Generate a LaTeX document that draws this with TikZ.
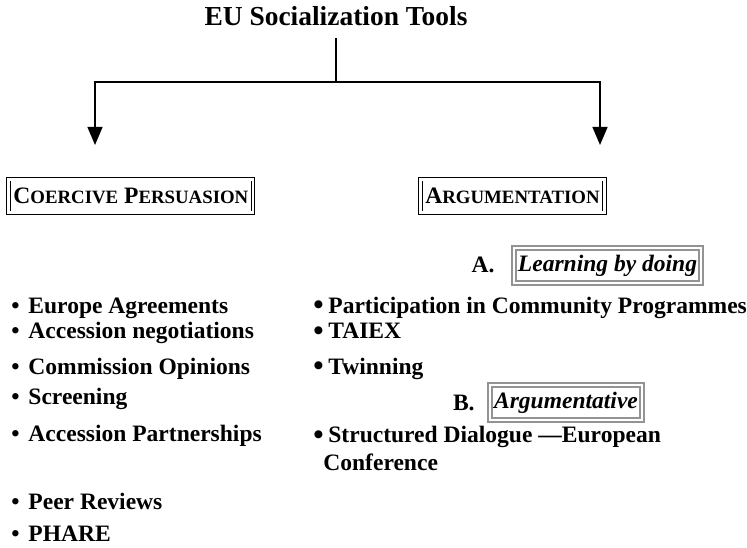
\documentclass[tikz,border=0pt]{standalone}
\usepackage{fontspec}
\setmainfont{Liberation Serif}
\usetikzlibrary{arrows.meta}

\newcommand{\fakesc}[2]{#1{\fontsize{9.6}{9.6}\selectfont #2}}
\newcommand{\smalldot}{\makebox[8.7pt][l]{•}}
\newcommand{\bigdot}{\makebox[7.65pt][l]{\smash{\raisebox{-0.9pt}{\fontsize{15}{15}\selectfont •}}}}

\begin{document}
\begin{tikzpicture}[
	x=0.51pt, y=-0.51pt,
	headline/.style={font=\fontsize{14}{16}\selectfont\bfseries, inner sep=0pt},
	category/.style={draw, double, line width=0.5pt, double distance=1.2pt, font=\fontsize{12}{14}\selectfont\bfseries, minimum height=17pt, inner xsep=2.5pt},
	mode/.style={draw=gray!85, double, line width=1.1pt, double distance=0.9pt, font=\fontsize{12}{14}\selectfont\bfseries\itshape, minimum height=16.5pt, inner xsep=2pt},
	marker/.style={font=\fontsize{12}{14}\selectfont\bfseries, inner sep=0pt, anchor=base east},
	item/.style={font=\fontsize{12}{13.8}\selectfont\bfseries, inner sep=0pt, anchor=base west, align=left},
	branch/.style={line width=0.8pt},
	drop/.style={line width=0.9pt, -{Triangle[width=7.6pt, length=9.2pt]}}
	]
	
	\useasboundingbox (0,0) rectangle (747,548);
	
	% Title and tree
	\node[headline, anchor=base] (title) at (336,26) {EU Socialization Tools};
	\coordinate (split) at (336,82);
	\coordinate (lefttip) at (95,145);
	\coordinate (righttip) at (600,145);
	\draw[branch, shorten <=6pt] (title.south) -- (split);
	\draw[drop] (split) -| (lefttip);
	\draw[drop] (split) -| (righttip);
	
	% Categories
	\node[category, anchor=west] (coercive) at (8,196) {\fakesc{C}{OERCIVE} \fakesc{P}{ERSUASION}};
	\node[category, anchor=east] (argumentation) at (605,196) {\fakesc{A}{RGUMENTATION}};
	
	% Modes of argumentation
	\node[mode] (learning) at (607.5,265.5) {Learning by doing};
	\node[mode] (arguing) at (566,402.5) {Argumentative};
	\node[marker] (marka) at (495,273) {A.};
	\node[marker] (markb) at (475,410) {B.};
	
	% Coercive tools
	\foreach \txt/\y [count=\i] in {Europe Agreements/313, Accession negotiations/339, Commission Opinions/374, Screening/404, Accession Partnerships/441, Peer Reviews/509, PHARE/541}
		\node[item] (coer\i) at (11,\y) {\smalldot\txt};
	
	% Argumentation tools
	\foreach \txt/\y [count=\i] in {Participation in Community Programmes/313, TAIEX/339, Twinning/374}
		\node[item] (learn\i) at (313,\y) {\bigdot\txt};
	\node[item] (argue1) at (313,470) {\bigdot Structured Dialogue —European\\\hspace*{5.1pt}Conference};
	
\end{tikzpicture}
\end{document}
